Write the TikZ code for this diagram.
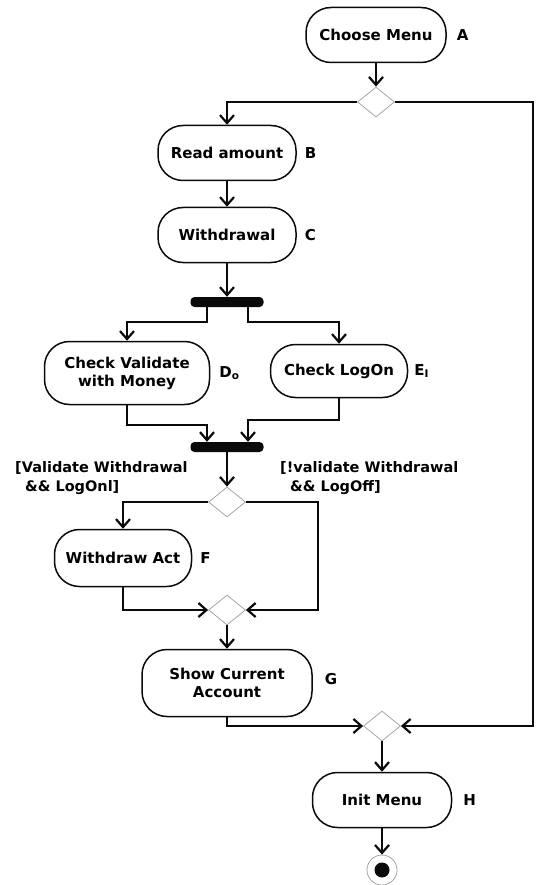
\documentclass[tikz,border=0pt]{standalone}
\usepackage{fontspec}
\usepackage{tikz}
\usetikzlibrary{shapes.geometric, arrows.meta, positioning, calc}
\newfontfamily\diafont{DejaVu Sans}
\definecolor{mydark}{RGB}{10,10,10}
\definecolor{mygrey}{RGB}{165,165,165}
\tikzset{
  action/.style={rectangle, draw=mydark, fill=white, align=center,
    minimum height=55pt, rounded corners=25pt, line width=1.5pt,
    font=\diafont\bfseries\fontsize{15}{18}\selectfont},
  decision/.style={diamond, draw=mygrey, fill=white, line width=0.8pt,
    minimum width=37pt, minimum height=30pt, inner sep=0pt},
  syncbar/.style={rectangle, fill=mydark, rounded corners=4pt,
    minimum width=73pt, minimum height=10pt, inner sep=0pt},
  tag/.style={font=\diafont\bfseries\fontsize{15}{18}\selectfont, inner sep=0pt},
  guard/.style={font=\diafont\bfseries\fontsize{14.5}{19}\selectfont,
    align=left, inner sep=0pt, anchor=north west},
  arrow/.style={-{Straight Barb[length=8pt, width=14pt]}, line width=2.2pt, color=mydark},
  line/.style={line width=2.2pt, color=mydark}
}

\begin{document}
\begin{tikzpicture}[x=1pt, y=-1pt]
  \useasboundingbox (0,0) rectangle (538,885);

  % Blocks
  \node[action, minimum width=140pt] (choose) at (376, 35) {Choose Menu};
  \node[decision] (menudec) at (376, 102) {};
  \node[action, minimum width=138pt] (read) at (227, 153) {Read amount};
  \node[action, minimum width=138pt] (withdrawal) at (227, 235) {Withdrawal};
  \node[syncbar] (fork) at (227, 302) {};
  \node[action, minimum width=165pt, minimum height=63pt] (checkval) at (127, 373) {Check Validate\\with Money};
  \node[action, minimum width=137pt, minimum height=53pt] (checklog) at (339, 371) {Check LogOn};
  \node[syncbar] (join) at (227, 447) {};
  \node[decision] (guarddec) at (227, 502) {};
  \node[action, minimum width=137pt, minimum height=57pt] (withdrawact) at (123, 558) {Withdraw Act};
  \node[decision] (mergedec) at (227, 610) {};
  \node[action, minimum width=170pt, minimum height=67pt] (showacc) at (227, 683) {Show Current\\Account};
  \node[decision] (enddec) at (382, 726) {};
  \node[action, minimum width=139pt] (initmenu) at (382, 800) {Init Menu};
  \node[circle, draw=mygrey, line width=0.8pt, minimum size=30pt, inner sep=0pt] (final) at (382, 870) {};
  \fill[mydark] (final) circle (7.5pt);

  % Letters beside the actions
  \node[tag, right=10pt of choose] (tagA) {A};
  \node[tag, right=8pt of read] (tagB) {B};
  \node[tag, right=8pt of withdrawal] (tagC) {C};
  \node[tag, right=9pt of checkval] (tagD) {D\textsubscript{o}};
  \node[tag, right=6pt of checklog] (tagE) {E\textsubscript{I}};
  \node[tag, right=8pt of withdrawact] (tagF) {F};
  \node[tag, right=12pt of showacc, yshift=4pt] (tagG) {G};
  \node[tag, right=11pt of initmenu] (tagH) {H};

  % Guards
  \node[guard] (guardyes) at (15, 461) {[Validate Withdrawal\\\hspace{10pt}\&\& LogOnl]};
  \node[guard] (guardno) at (280, 461) {[!validate Withdrawal\\\hspace{10pt}\&\& LogOff]};

  % Corners of the long returns
  \coordinate (backright) at (533, 400);
  \coordinate (skipright) at (318, 560);

  % Paths
  \draw[arrow] (choose) -- (menudec);
  \draw[arrow] (menudec.west) -| (read.north);
  \draw[arrow] (menudec.east) -| (backright) |- (enddec.east);
  \draw[arrow] (read) -- (withdrawal);
  \draw[arrow] (withdrawal) -- (fork);
  \draw[arrow] ([xshift=-20pt]fork.south) -- ++(0,15) -| (checkval.north);
  \draw[arrow] ([xshift=21pt]fork.south) -- ++(0,15) -| (checklog.north);
  \draw[arrow] (checkval.south) -- ++(0,20) -| ([xshift=-20pt]join.north);
  \draw[arrow] (checklog.south) -- ++(0,22) -| ([xshift=21pt]join.north);
  \draw[arrow] (join) -- (guarddec);
  \draw[arrow] (guarddec.west) -| (withdrawact.north);
  \draw[arrow] (guarddec.east) -| (skipright) |- (mergedec.east);
  \draw[arrow] (withdrawact.south) |- (mergedec.west);
  \draw[arrow] (mergedec) -- (showacc);
  \draw[arrow] (showacc.south) |- (enddec.west);
  \draw[arrow] (enddec) -- (initmenu);
  \draw[arrow] (initmenu) -- (final);
\end{tikzpicture}
\end{document}
